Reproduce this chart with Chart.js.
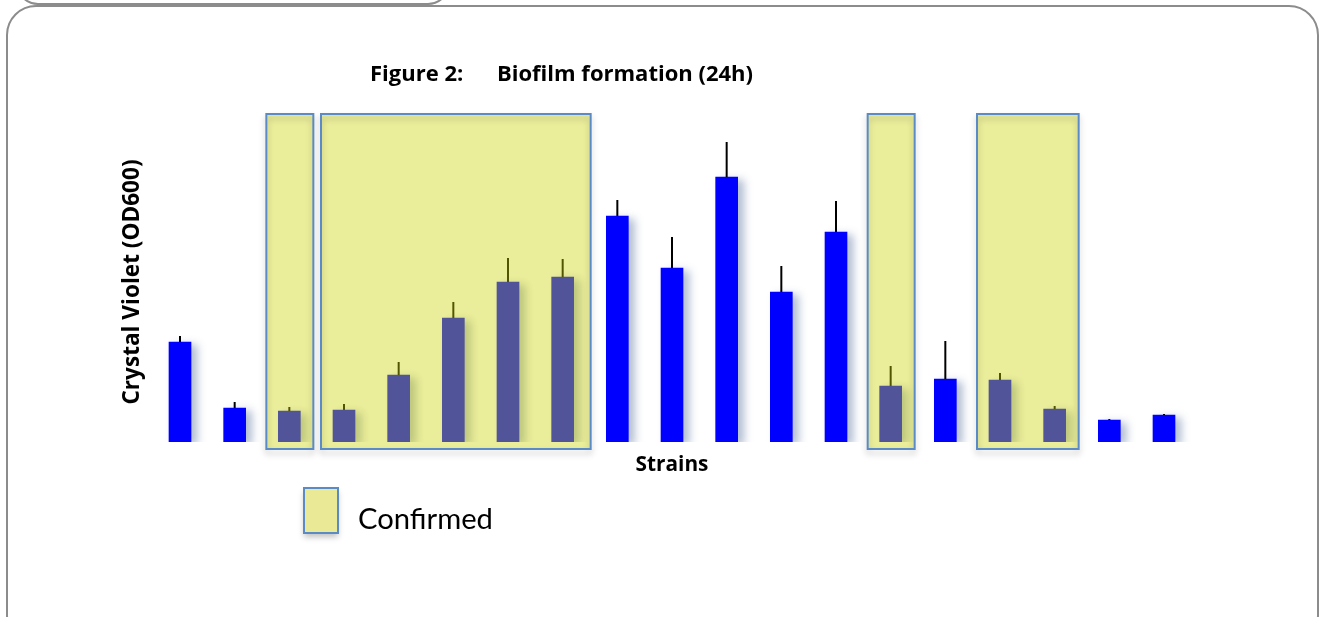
<!DOCTYPE html>
<html>
<head>
<meta charset="utf-8">
<script src="https://cdn.jsdelivr.net/npm/chart.js@4.4.1/dist/chart.umd.min.js"></script>
<style>
  body { margin: 0; background: #fff; }
  #wrap { position: relative; width: 1320px; height: 617px; overflow: hidden; }
  .frame { position: absolute; border: 2px solid #8c8c8c; box-sizing: border-box; }
  #frameTop { left: 16px; top: -40px; width: 434px; height: 45px; border-radius: 22px; }
  #frameMain { left: 6px; top: 5px; width: 1313px; height: 640px; border-radius: 30px; }
  canvas { position: absolute; left: 0; top: 0; }
</style>
</head>
<body>
<div id="wrap">
  <div class="frame" id="frameTop"></div>
  <div class="frame" id="frameMain"></div>
  <canvas id="biofilmChart" width="1320" height="617"></canvas>
</div>
<script>
// Veriler (OD600, resimden okunan yaklaşık değerler)
const strains = ["1", "2", "3", "4", "5", "6", "7", "8", "9", "10",
                 "11", "12", "13", "14", "15", "16", "17", "18", "19"];
const meanOD = [1.00, 0.34, 0.31, 0.32, 0.67, 1.24, 1.60, 1.65, 2.26, 1.74,
                2.65, 1.50, 2.10, 0.56, 0.63, 0.62, 0.33, 0.22, 0.27];
const errorOD = [0.06, 0.06, 0.04, 0.06, 0.13, 0.16, 0.24, 0.18, 0.16, 0.31,
                 0.35, 0.26, 0.31, 0.20, 0.38, 0.07, 0.03, 0.01, 0.01];
// onaylanan suş grupları (başlangıç, bitiş indeksleri)
const confirmedGroups = [[2, 2], [3, 7], [13, 13], [15, 16]];

const titleLabel = "Figure 2:";
const titleText = "Biofilm formation (24h)";
const yTitle = "Crystal Violet (OD600)";
const xTitle = "Strains";
const legendText = "Confirmed";

// Yazıyı verilen genişliğe sığdıran font ayarı
function fitFont(ctx, text, weight, family, width) {
    ctx.font = weight + " 20px " + family;
    const size = 20 * width / ctx.measureText(text).width;
    ctx.font = weight + " " + size.toFixed(1) + "px " + family;
}

// Çubuk gölgesi
const shadowPlugin = {
    id: "barShadow",
    beforeDatasetsDraw(chart) {
        const ctx = chart.ctx;
        ctx.save();
        ctx.shadowColor = "rgba(60, 90, 140, 0.4)";
        ctx.shadowBlur = 8;
        ctx.shadowOffsetX = 6;
        ctx.shadowOffsetY = 3;
    },
    afterDatasetsDraw(chart) {
        chart.ctx.restore();
    }
};

// Hata çubukları, onay kutuları ve yazılar
const overlayPlugin = {
    id: "overlay",
    afterDraw(chart) {
        const ctx = chart.ctx;
        const x = chart.scales.x;
        const y = chart.scales.y;

        // hata çubukları
        ctx.save();
        ctx.strokeStyle = "#000000";
        ctx.lineWidth = 2;
        meanOD.forEach((m, i) => {
            const px = x.getPixelForValue(i);
            ctx.beginPath();
            ctx.moveTo(px, y.getPixelForValue(m));
            ctx.lineTo(px, y.getPixelForValue(m + errorOD[i]));
            ctx.stroke();
        });
        ctx.restore();

        // onay kutuları
        const top = y.getPixelForValue(3.28);
        const bottom = y.getPixelForValue(0) + 7;
        confirmedGroups.forEach(([a, b]) => {
            const left = x.getPixelForValue(a) - 23;
            const right = x.getPixelForValue(b) + (b - a > 2 ? 28 : 24);
            ctx.save();
            ctx.fillStyle = "rgba(203, 210, 0, 0.40)";
            ctx.fillRect(left, top, right - left, bottom - top);
            ctx.shadowColor = "rgba(0, 0, 0, 0.25)";
            ctx.shadowBlur = 6;
            ctx.shadowOffsetY = 4;
            ctx.strokeStyle = "#5b8bc6";
            ctx.lineWidth = 2;
            ctx.strokeRect(left, top, right - left, bottom - top);
            ctx.restore();
        });

        // başlık
        ctx.save();
        ctx.fillStyle = "#000000";
        ctx.textBaseline = "alphabetic";
        ctx.textAlign = "left";
        fitFont(ctx, titleText, "bold", "'Open Sans'", 256);
        ctx.fillText(titleLabel, 370, 81);
        ctx.fillText(titleText, 497, 81);

        // eksen başlıkları
        ctx.textAlign = "center";
        fitFont(ctx, xTitle, "bold", "'Open Sans'", 73);
        ctx.fillText(xTitle, 672, 471);
        ctx.translate(139, 282);
        ctx.rotate(-Math.PI / 2);
        fitFont(ctx, yTitle, "bold", "'Open Sans'", 245);
        ctx.fillText(yTitle, 0, 0);
        ctx.restore();

        // açıklama
        ctx.save();
        ctx.shadowColor = "rgba(0, 0, 0, 0.25)";
        ctx.shadowBlur = 6;
        ctx.shadowOffsetY = 4;
        ctx.fillStyle = "#eae996";
        ctx.fillRect(304, 488, 34, 45);
        ctx.shadowColor = "transparent";
        ctx.strokeStyle = "#5b8bc6";
        ctx.lineWidth = 2;
        ctx.strokeRect(304, 488, 34, 45);
        ctx.fillStyle = "#000000";
        ctx.textAlign = "left";
        fitFont(ctx, legendText, "normal", "Lato", 135);
        ctx.fillText(legendText, 358, 529);
        ctx.restore();
    }
};

new Chart(document.getElementById("biofilmChart"), {
    type: "bar",
    data: {
        labels: strains,
        datasets: [
            {
                label: "Biofilm",
                data: meanOD,
                backgroundColor: "#0000ff",
                borderWidth: 0,
                barThickness: 22,
            },
        ],
    },
    options: {
        responsive: false,
        animation: false,
        layout: {
            padding: { left: 152.67, right: 128.67, top: 112, bottom: 175 },
        },
        plugins: {
            legend: { display: false },
            tooltip: { enabled: false },
        },
        scales: {
            x: { display: false, offset: true },
            y: { display: false, min: 0, max: 3.3 },
        },
    },
    plugins: [shadowPlugin, overlayPlugin],
});
</script>
</body>
</html>
